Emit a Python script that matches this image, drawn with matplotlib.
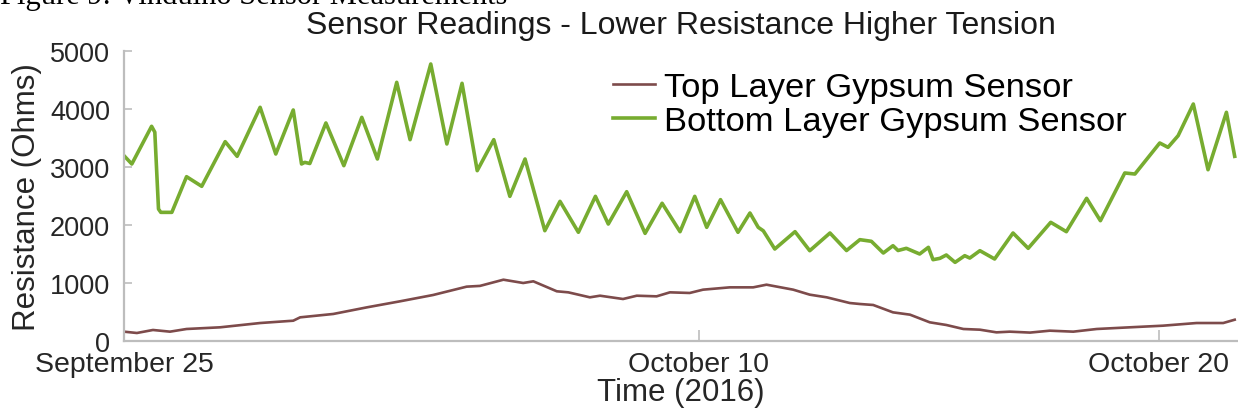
import matplotlib
matplotlib.use("Agg")
from matplotlib import pyplot as plt

plt.rcParams['font.family'] = ['Liberation Sans', 'DejaVu Sans']

# time axis in days (Oct 10 at 12.5, Oct 20 at 22.5)
tick_pos = [0.0, 12.5, 22.5]
tick_labels = ['September 25', 'October 10', 'October 20']

# bottom layer gypsum sensor (ohms)
bottom_t = [0.00, 0.17, 0.60, 0.67, 0.75, 0.80, 1.04, 1.36, 1.69, 2.20, 2.46, 2.96,
            3.30, 3.68, 3.86, 3.93, 4.04, 4.39, 4.78, 5.17, 5.51, 5.93, 6.22, 6.67,
            7.02, 7.35, 7.68, 8.04, 8.39, 8.72, 9.15, 9.48, 9.88, 10.25, 10.53, 10.93,
            11.33, 11.70, 12.09, 12.41, 12.67, 12.97, 13.35, 13.61, 13.79, 13.90, 14.15,
            14.59, 14.91, 15.35, 15.71, 16.00, 16.25, 16.51, 16.72, 16.83, 17.01, 17.30,
            17.49, 17.59, 17.74, 17.88, 18.07, 18.28, 18.39, 18.61, 18.93, 19.33, 19.66,
            20.15, 20.49, 20.93, 21.23, 21.76, 21.98, 22.52, 22.70, 22.92, 23.25, 23.57,
            23.97, 24.15]
bottom_ohm = [3195, 3052, 3702, 3600, 2276, 2218, 2218, 2833, 2667, 3437, 3184, 4029,
              3224, 3983, 3052, 3080, 3060, 3759, 3023, 3856, 3138, 4460, 3471, 4776,
              3397, 4443, 2937, 3471, 2494, 3138, 1902, 2408, 1874, 2494, 2017, 2574,
              1856, 2375, 1885, 2494, 1960, 2437, 1874, 2207, 1960, 1900, 1586,
              1885, 1557, 1862, 1560, 1747, 1719, 1517, 1643, 1560, 1598, 1500,
              1615, 1402, 1425, 1483, 1356, 1471, 1430, 1557, 1414, 1862, 1598,
              2046, 1885, 2460, 2074, 2897, 2879, 3414, 3339, 3540, 4086, 2953,
              3943, 3184]

# top layer gypsum sensor (ohms)
top_t = [0.00, 0.28, 0.63, 1.00, 1.36, 2.09, 2.96, 3.68, 3.83, 4.55, 5.28, 6.00,
         6.72, 7.45, 7.74, 8.25, 8.68, 8.90, 9.41, 9.66, 10.13, 10.35, 10.85, 11.15,
         11.58, 11.87, 12.30, 12.59, 13.17, 13.68, 13.97, 14.55, 14.91, 15.28, 15.78,
         16.00, 16.29, 16.72, 17.09, 17.52, 17.88, 18.25, 18.61, 18.97, 19.26, 19.70,
         20.13, 20.64, 21.15, 21.87, 22.59, 23.32, 23.90, 24.15]
top_ohm = [161, 138, 190, 161, 207, 236, 310, 350, 408, 466, 580, 684,
           793, 937, 950, 1057, 1000, 1029, 857, 839, 753, 781, 724, 781,
           770, 839, 828, 885, 925, 925, 971, 885, 799, 753, 655,
           638, 621, 494, 454, 322, 276, 207, 195, 149, 161, 145,
           178, 161, 207, 236, 264, 310, 310, 367]

fig = plt.figure(figsize=(12.38, 4.14), dpi=100)
ax = fig.add_axes([124 / 1238, 1 - 342 / 414, 1113 / 1238, 290 / 414])

ax.plot(top_t, top_ohm, color='#7d4b4b', lw=1.9, solid_joinstyle='round',
        label='Top Layer Gypsum Sensor')
ax.plot(bottom_t, bottom_ohm, color='#77ac30', lw=2.6, solid_joinstyle='round',
        label='Bottom Layer Gypsum Sensor')

ax.set_xlim(0, 24.2)
ax.set_ylim(0, 5000)
ax.set_yticks([0, 1000, 2000, 3000, 4000, 5000])
ax.set_xticks(tick_pos)
ax.set_xticklabels(tick_labels)

for s in ['top', 'right']:
    ax.spines[s].set_visible(False)
for s in ['left', 'bottom']:
    ax.spines[s].set_color('#bdbdbd')
    ax.spines[s].set_linewidth(1.6)

ax.tick_params(axis='y', direction='in', length=6, width=1.2, color='#bdbdbd',
               labelsize=19.5, labelcolor='#262626', pad=10)
ax.tick_params(axis='x', direction='in', length=8, width=1.2, color='#bdbdbd',
               labelsize=20.5, labelcolor='#262626', pad=7)

ax.set_ylabel('Resistance (Ohms)', fontsize=22.5, color='#262626')
ax.yaxis.set_label_coords(-0.074, 0.5)
ax.set_xlabel('Time (2016)', fontsize=22.5, color='#262626', labelpad=0)

fig.text(681 / 1238, 1 - 34 / 414, 'Sensor Readings - Lower Resistance Higher Tension',
         ha='center', va='baseline', fontsize=23, color='#1a1a1a')
fig.text(0.0, 1 - 4 / 414, 'Figure 9: Vinduino Sensor Measurements',
         ha='left', va='baseline', fontsize=22, family='Liberation Serif')

ax.legend(loc='upper left', bbox_to_anchor=(613 / 1238, 1 - 73 / 414),
          bbox_transform=fig.transFigure, frameon=False, fontsize=24.8,
          handlelength=1.22, handletextpad=0.25, labelspacing=0.08, borderpad=0,
          borderaxespad=0)

fig.savefig('out.png', dpi=100)
